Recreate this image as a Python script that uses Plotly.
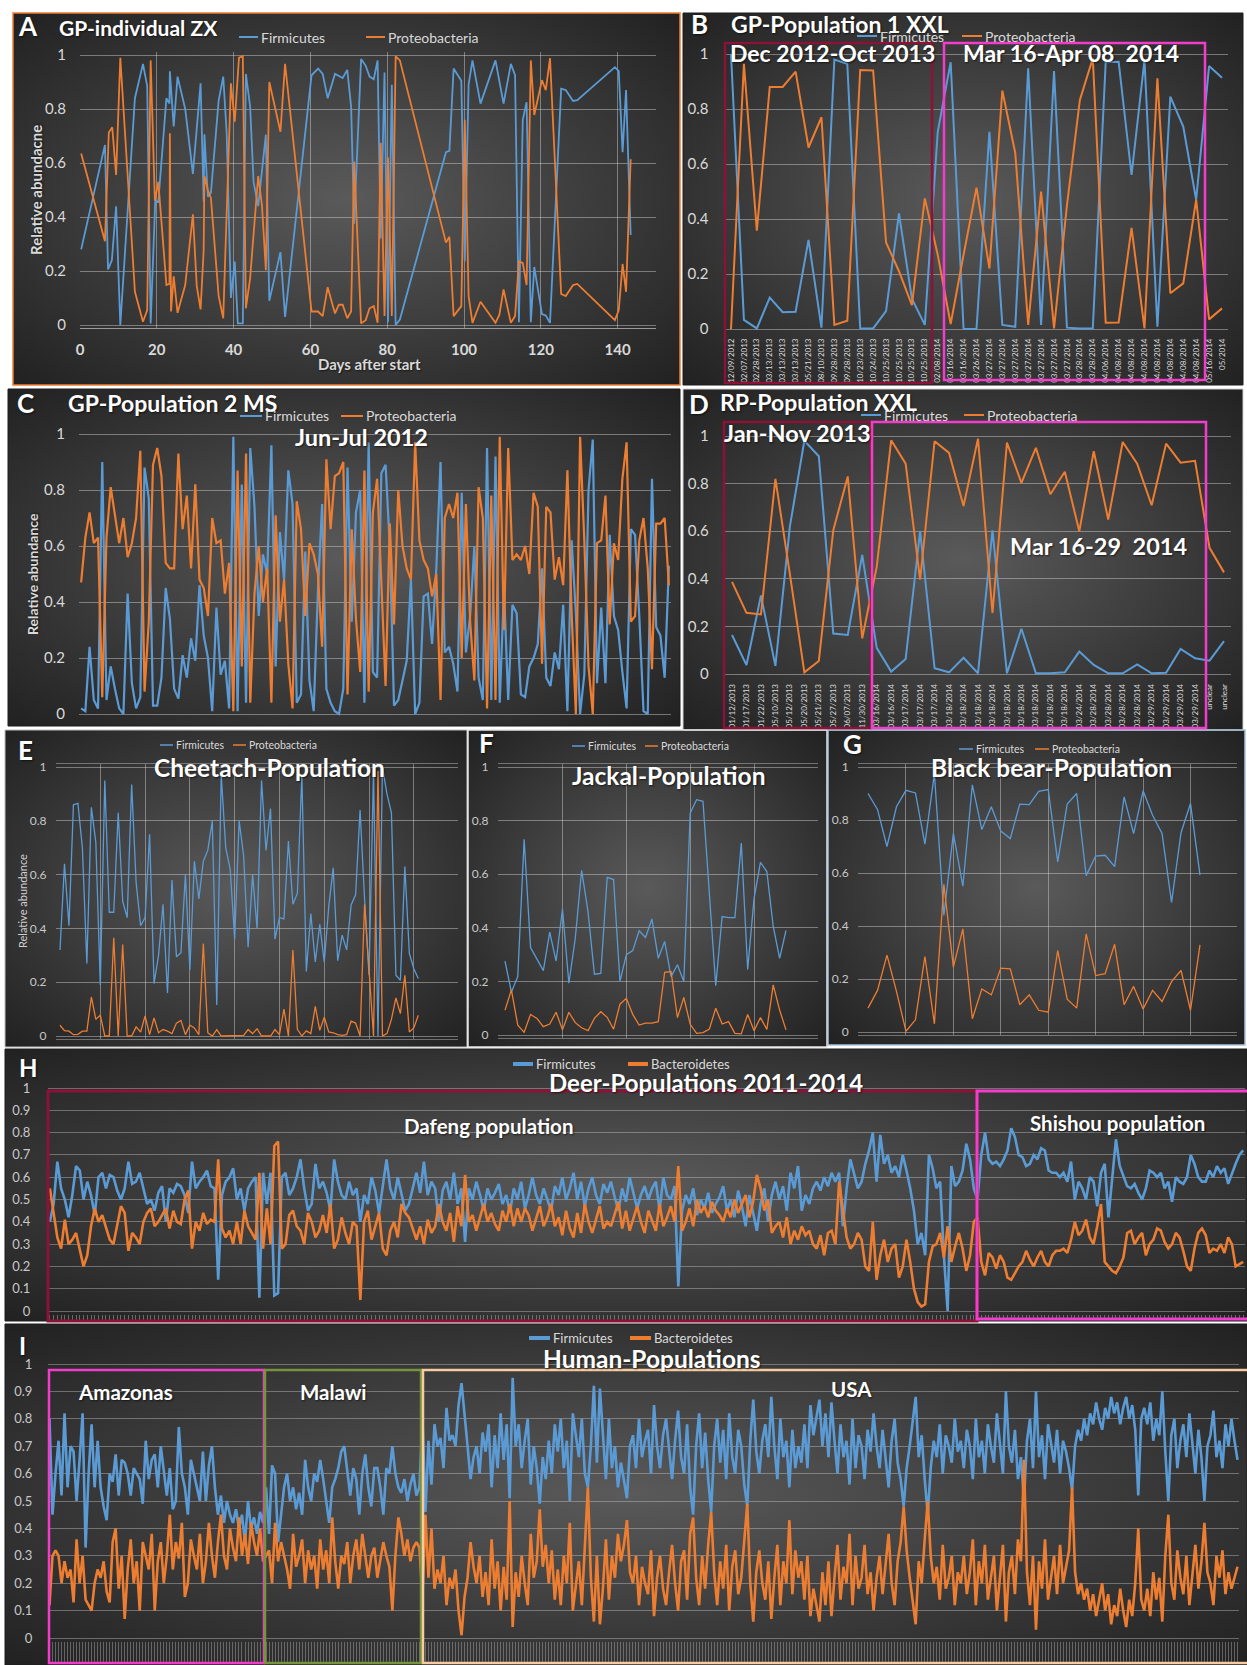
import base64
import plotly.graph_objects as go

W, H = 1247, 1665
BLUE, ORANGE = "#5b9bd5", "#ed7d31"
FONT = "Lato"
TXT = "#d9d9d9"
GRID = "rgba(215,215,215,0.45)"

# ---------------- A: GP-individual ZX (days after start) ----------------
a_fir_days = [0.3, 6.5, 7.3, 8.3, 9.4, 10.5, 14.3, 16.4, 17.5, 18.4, 19.6, 20.4, 22.5, 23.3, 23.4, 24.4,
              25.4, 27.4, 29.4, 31.4, 32.2, 32.4, 33.3, 34.1, 36.1, 37.3, 38.2, 39.3, 40.3, 41.1, 42.4,
              43.2, 44.3, 45.2, 46.4, 48.4, 49.3, 52.2, 53.4, 60.3, 62.0, 63.2, 64.5, 66.4, 68.4, 69.6,
              70.6, 71.4, 73.2, 74.4, 75.4, 76.5, 77.5, 78.3, 79.3, 80.2, 81.2, 82.2, 83.3, 95.3, 96.2,
              97.3, 99.3, 100.2, 101.2, 102.2, 104.3, 108.2, 110.3, 112.2, 113.3, 114.3, 115.3, 116.3,
              117.4, 118.3, 120.3, 121.3, 122.4, 125.3, 126.5, 128.4, 129.5, 139.3, 140.3, 141.3, 142.2, 143.4]
a_fir = [0.28, 0.667, 0.206, 0.24, 0.44, 0.0, 0.84, 0.967, 0.885, 0.006, 0.46, 0.456, 0.84, 0.82, 0.94, 0.735,
         0.92, 0.80, 0.56, 0.895, 0.457, 0.706, 0.475, 0.49, 0.83, 0.92, 0.71, 0.10, 0.235, 0.006, 0.006,
         0.93, 0.81, 0.53, 0.44, 0.705, 0.09, 0.27, 0.03, 0.925, 0.95, 0.93, 0.84, 0.93, 0.915, 0.945,
         0.81, 0.375, 0.985, 0.96, 0.92, 0.91, 0.98, 0.32, 0.935, 0.01, 0.89, 0.0, 0.02, 0.64, 0.645,
         0.95, 0.905, 0.235, 0.89, 0.98, 0.82, 0.98, 0.82, 0.967, 0.925, 0.01, 0.76, 0.825,
         0.01, 0.215, 0.04, 0.035, 0.008, 0.875, 0.87, 0.83, 0.833, 0.955, 0.94, 0.64, 0.87, 0.333]
a_pro_days = [0.3, 6.5, 7.5, 8.4, 9.4, 10.5, 14.3, 16.4, 17.5, 18.4, 19.5, 20.4, 22.5, 23.3, 23.4, 23.7,
              24.4, 25.4, 27.4, 29.4, 30.4, 31.4, 32.2, 32.4, 33.3, 34.1, 36.1, 37.3, 39.3, 40.3, 41.4,
              42.4, 43.2, 44.3, 46.4, 47.4, 48.4, 49.3, 52.2, 53.4, 60.3, 62.0, 63.2, 64.5, 66.4, 67.4,
              68.4, 69.6, 70.6, 71.4, 73.2, 74.4, 75.4, 76.5, 77.5, 78.3, 79.3, 80.2, 81.2, 82.2, 83.3,
              95.3, 96.2, 97.3, 99.3, 100.2, 101.2, 102.2, 104.3, 108.2, 109.2, 110.3, 112.2, 113.3,
              114.3, 115.3, 116.3, 117.4, 118.3, 120.3, 121.3, 122.4, 125.3, 126.5, 128.4, 129.5, 139.3,
              140.3, 141.3, 142.2, 143.4]
a_pro = [0.635, 0.31, 0.713, 0.732, 0.556, 0.99, 0.123, 0.012, 0.055, 0.98, 0.46, 0.53, 0.148, 0.152, 0.71, 0.05,
         0.18, 0.045, 0.148, 0.41, 0.145, 0.058, 0.275, 0.552, 0.50, 0.47, 0.108, 0.025, 0.895, 0.753, 0.99,
         0.995, 0.062, 0.173, 0.552, 0.44, 0.203, 0.90, 0.716, 0.967, 0.05, 0.05, 0.033, 0.14, 0.043, 0.075,
         0.075, 0.025, 0.05, 0.605, 0.006, 0.018, 0.062, 0.07, 0.008, 0.675, 0.033, 0.62, 0.033, 0.995, 0.98,
         0.305, 0.327, 0.033, 0.07, 0.76, 0.107, 0.008, 0.086, 0.008, 0.037, 0.132, 0.008, 0.033,
         0.235, 0.23, 0.148, 0.98, 0.778, 0.907, 0.87, 0.988, 0.115, 0.107, 0.148, 0.152, 0.018,
         0.055, 0.226, 0.123, 0.614]

# ---------------- B: GP-Population 1 XXL ----------------
b_dates = ["12/09/2012", "02/07/2013", "02/28/2013", "03/13/2013", "03/13/2013", "03/13/2013", "05/21/2013",
           "08/10/2013", "09/28/2013", "09/28/2013", "10/23/2013", "10/24/2013", "10/25/2013", "10/25/2013",
           "10/25/2013", "10/25/2013", "02/08/2014", "03/16/2014", "03/16/2014", "03/26/2014", "03/27/2014",
           "03/27/2014", "03/27/2014", "03/27/2014", "03/27/2014", "03/27/2014", "03/27/2014", "03/28/2014",
           "03/28/2014", "04/06/2014", "04/08/2014", "04/08/2014", "04/08/2014", "04/08/2014", "04/08/2014",
           "04/08/2014", "04/08/2014", "05/16/2014", "05/2014"]
b_fir = [1.0, 0.033, 0.002, 0.114, 0.061, 0.063, 0.324, 0.005, 0.98, 0.964, 0.002, 0.002, 0.065, 0.42, 0.11,
         0.015, 0.717, 0.97, 0.0, 0.0, 0.717, 0.015, 0.008, 0.948, 0.015, 0.938, 0.005, 0.002, 0.002, 0.97,
         0.972, 0.56, 0.978, 0.008, 0.845, 0.736, 0.47, 0.956, 0.914]
b_pro = [0.0, 0.964, 0.358, 0.88, 0.88, 0.936, 0.66, 0.77, 0.015, 0.03, 0.942, 0.94, 0.315, 0.21, 0.087,
         0.475, 0.27, 0.018, 0.27, 0.514, 0.22, 0.867, 0.64, 0.015, 0.50, 0.002, 0.45, 0.833, 0.984, 0.023,
         0.024, 0.368, 0.002, 0.912, 0.13, 0.166, 0.47, 0.035, 0.075]

# ---------------- C: GP-Population 2 MS ----------------
c_fir = [0.02, 0.01, 0.24, 0.05, 0.02, 0.90, 0.05, 0.17, 0.09, 0.02,
         0.00, 0.43, 0.11, 0.02, 0.06, 0.88, 0.77, 0.03, 0.03, 0.13,
         0.45, 0.34, 0.09, 0.055, 0.21, 0.13, 0.27, 0.19, 0.46, 0.28,
         0.20, 0.01, 0.38, 0.14, 0.19, 0.02, 0.99, 0.01, 0.82, 0.04,
         0.95, 0.74, 0.35, 0.57, 0.50, 0.96, 0.17, 0.65, 0.48, 0.87,
         0.75, 0.04, 0.07, 0.58, 0.12, 0.01, 0.44, 0.75, 0.09, 0.04,
         0.01, 0.00, 0.09, 0.88, 0.33, 0.72, 0.80, 0.04, 0.97, 0.15,
         0.13, 0.86,
         0.89, 0.60, 0.03, 0.05, 0.12, 0.19, 0.48, 0.00, 0.04, 0.42,
         0.43, 0.25, 0.52, 0.90, 0.22, 0.24, 0.18, 0.08, 0.79, 0.22,
         0.35, 0.60, 0.13, 0.05, 0.95, 0.05, 0.92, 0.04, 0.45, 0.05,
         0.39, 0.36, 0.07, 0.06, 0.17, 0.20, 0.25, 0.52, 0.13, 0.10,
         0.22, 0.16, 0.39, 0.01, 0.62, 0.36, 0.00, 0.14, 0.80, 0.98,
         0.11, 0.38, 0.11, 0.64, 0.35, 0.30, 0.15, 0.02, 0.66, 0.64,
         0.35, 0.01, 0.00, 0.84, 0.31, 0.28, 0.13, 0.53]
c_pro = [0.47, 0.63, 0.72, 0.61, 0.63, 0.06, 0.63, 0.81, 0.71, 0.61,
         0.70, 0.56, 0.61, 0.70, 0.94, 0.08, 0.33, 0.89, 0.95, 0.85,
         0.54, 0.52, 0.52, 0.93, 0.66, 0.78, 0.52, 0.82, 0.48, 0.45,
         0.35, 0.70, 0.61, 0.62, 0.43, 0.54, 0.01, 0.87, 0.17, 0.93,
         0.04, 0.43, 0.60, 0.40, 0.52, 0.04, 0.71, 0.33, 0.48, 0.18,
         0.02, 0.76, 0.66, 0.35, 0.61, 0.57, 0.50, 0.24, 0.91, 0.66,
         0.85, 0.86, 0.90, 0.07, 0.66, 0.34, 0.15, 0.87, 0.08, 0.72,
         0.84, 0.44,
         0.10, 0.68, 0.32, 0.80, 0.60, 0.52, 0.48, 0.97, 0.62, 0.55,
         0.52, 0.42, 0.50, 0.05, 0.70, 0.75, 0.70, 0.79, 0.20, 0.75,
         0.33, 0.12, 0.81, 0.70, 0.02, 0.78, 0.05, 0.99, 0.30, 0.95,
         0.55, 0.57, 0.55, 0.60, 0.50, 0.79, 0.74, 0.18, 0.74, 0.72,
         0.48, 0.56, 0.46, 0.87, 0.36, 0.00, 0.99, 0.62, 0.17, 0.00,
         0.61, 0.62, 0.78, 0.32, 0.61, 0.55, 0.84, 0.97, 0.33, 0.35,
         0.62, 0.70, 0.52, 0.16, 0.68, 0.68, 0.70, 0.46]

# ---------------- D: RP-Population XXL ----------------
d_dates = (["01/12/2013", "01/17/2013", "01/22/2013", "05/10/2013", "05/12/2013", "05/20/2013",
            "05/21/2013", "05/27/2013", "06/07/2013", "11/30/2013", "03/16/2014", "03/16/2014",
            "03/17/2014", "03/17/2014", "03/17/2014"] + ["03/18/2014"] * 9 + ["03/24/2014"]
           + ["03/28/2014"] * 4 + ["03/29/2014"] * 4 + ["unclear", "unclear"])
d_fir = [0.164, 0.038, 0.33, 0.034, 0.62, 0.98, 0.915, 0.17, 0.164, 0.50, 0.11, 0.01, 0.063, 0.60, 0.024,
         0.007, 0.068, 0.003, 0.604, 0.003, 0.19, 0.003, 0.003, 0.007, 0.094, 0.038, 0.003, 0.003, 0.04,
         0.003, 0.005, 0.105, 0.066, 0.056, 0.138]
d_pro = [0.387, 0.257, 0.25, 0.82, 0.42, 0.007, 0.055, 0.604, 0.83, 0.15, 0.45, 0.982, 0.884, 0.397, 0.978,
         0.929, 0.706, 0.989, 0.257, 0.972, 0.803, 0.95, 0.755, 0.85, 0.60, 0.936, 0.649, 0.975, 0.884,
         0.709, 0.968, 0.888, 0.896, 0.53, 0.427]

# ---------------- E: Cheetah population ----------------
e_fir = [0.32, 0.64, 0.41, 0.86, 0.865, 0.70, 0.27, 0.85, 0.72, 0.19, 0.95, 0.46, 0.46, 0.83, 0.50, 0.44,
         0.935, 0.57, 0.41, 0.44, 0.75, 0.195, 0.30, 0.49, 0.16, 0.58, 0.295, 0.31, 0.60, 0.245, 0.65, 0.51,
         0.65, 0.69, 0.80, 0.115, 0.97, 0.70, 0.62, 0.36, 0.80, 0.67, 0.33, 0.60, 0.40, 0.95, 0.69, 0.845,
         0.36, 0.44, 0.435, 0.725, 0.49, 0.53, 0.97, 0.24, 0.455, 0.275, 0.415, 0.275, 0.48, 0.625, 0.28,
         0.375, 0.32, 0.487, 0.525, 0.84, 0.51, 0.226, 0.98, 0.0, 1.0, 0.90, 0.83, 0.226, 0.207, 0.63,
         0.307, 0.25, 0.214]
e_pro = [0.04, 0.02, 0.018, 0.005, 0.006, 0.018, 0.018, 0.145, 0.062, 0.077, 0.0, 0.0, 0.365, 0.0, 0.34, 0.0,
         0.0, 0.034, 0.015, 0.075, 0.005, 0.067, 0.012, 0.024, 0.018, 0.009, 0.048, 0.058, 0.005, 0.04, 0.03,
         0.005, 0.344, 0.012, 0.0, 0.024, 0.0, 0.0, 0.0, 0.0, 0.0, 0.002, 0.024, 0.009, 0.027, 0.0, 0.0, 0.0,
         0.024, 0.005, 0.10, 0.0, 0.32, 0.025, 0.0, 0.019, 0.009, 0.11, 0.021, 0.07, 0.015, 0.012, 0.005,
         0.002, 0.005, 0.055, 0.048, 0.0, 0.49, 0.24, 0.0, 0.985, 0.0, 0.009, 0.062, 0.142, 0.083, 0.226,
         0.015, 0.03, 0.077]

# ---------------- F: Jackal population ----------------
f_fir = [0.276, 0.16, 0.218, 0.73, 0.326, 0.283, 0.24, 0.384, 0.276, 0.47, 0.193, 0.36, 0.614, 0.46, 0.227,
         0.23, 0.588, 0.58, 0.20, 0.30, 0.315, 0.389, 0.364, 0.433, 0.286, 0.349, 0.218, 0.262, 0.20, 0.828,
         0.878, 0.872, 0.51, 0.184, 0.442, 0.438, 0.438, 0.716, 0.245, 0.51, 0.644, 0.61, 0.405, 0.286, 0.39]
f_pro = [0.093, 0.168, 0.037, 0.01, 0.077, 0.062, 0.031, 0.041, 0.085, 0.019, 0.085, 0.046, 0.027, 0.016,
         0.062, 0.087, 0.066, 0.022, 0.115, 0.137, 0.077, 0.037, 0.044, 0.044, 0.05, 0.234, 0.237, 0.065,
         0.14, 0.04, 0.006, 0.009, 0.022, 0.10, 0.041, 0.05, 0.006, 0.004, 0.077, 0.016, 0.065, 0.021,
         0.187, 0.093, 0.019]

# ---------------- G: Black bear population ----------------
g_fir = [0.90, 0.84, 0.70, 0.85, 0.912, 0.902, 0.709, 0.975, 0.44, 0.75, 0.55, 0.933, 0.764, 0.85, 0.758,
         0.73, 0.86, 0.858, 0.908, 0.915, 0.642, 0.86, 0.90, 0.59, 0.664, 0.667, 0.624, 0.887, 0.749, 0.91,
         0.818, 0.749, 0.489, 0.752, 0.862, 0.592]
g_pro = [0.09, 0.157, 0.29, 0.153, 0.003, 0.046, 0.285, 0.031, 0.557, 0.245, 0.389, 0.05, 0.162, 0.14,
         0.241, 0.238, 0.103, 0.14, 0.082, 0.075, 0.307, 0.124, 0.09, 0.37, 0.213, 0.22, 0.331, 0.103,
         0.172, 0.087, 0.157, 0.115, 0.19, 0.232, 0.082, 0.329]

# ---------------- H: Deer populations 2011-2014 ----------------
h_dafeng_fir = [
    0.40, 0.48, 0.67, 0.55, 0.50, 0.42, 0.52, 0.65, 0.63, 0.50,
    0.58, 0.52, 0.43, 0.60, 0.62, 0.55, 0.61, 0.60, 0.54, 0.50,
    0.55, 0.67, 0.57, 0.58, 0.62, 0.55, 0.48, 0.50, 0.45, 0.53,
    0.56, 0.40, 0.55, 0.53, 0.57, 0.56, 0.52, 0.44, 0.67, 0.55,
    0.58, 0.60, 0.63, 0.56, 0.55, 0.14, 0.52, 0.58, 0.60, 0.64,
    0.50, 0.55, 0.45, 0.55, 0.58, 0.60, 0.06, 0.62, 0.48, 0.62,
    0.07, 0.08, 0.60, 0.62, 0.52, 0.55, 0.60, 0.68, 0.55, 0.45,
    0.48, 0.66, 0.55, 0.58, 0.53, 0.45, 0.68, 0.58, 0.52, 0.50,
    0.58, 0.52, 0.55, 0.40, 0.52, 0.48, 0.60, 0.54, 0.44, 0.56,
    0.68, 0.55, 0.50, 0.60, 0.52, 0.45, 0.48, 0.55, 0.62, 0.53,
    0.67, 0.52, 0.58, 0.55, 0.40, 0.54, 0.58, 0.50, 0.62, 0.48,
    0.55, 0.31, 0.55, 0.50, 0.58, 0.52, 0.45, 0.55, 0.50, 0.53,
    0.57, 0.48, 0.52, 0.44, 0.55, 0.50, 0.58, 0.46, 0.52, 0.60,
    0.52, 0.48, 0.55, 0.50, 0.45, 0.56, 0.52, 0.60, 0.50, 0.55,
    0.62, 0.50, 0.58, 0.47, 0.55, 0.60, 0.52, 0.48, 0.57, 0.53,
    0.58, 0.51, 0.45, 0.55, 0.49, 0.60, 0.53, 0.46, 0.52, 0.56,
    0.50, 0.55, 0.58, 0.45, 0.60, 0.52, 0.50, 0.56, 0.11, 0.45,
    0.52, 0.48, 0.55, 0.43, 0.50, 0.46, 0.53, 0.44, 0.48, 0.51,
    0.56, 0.45, 0.50, 0.42, 0.54, 0.47, 0.38, 0.52, 0.44, 0.36,
    0.48, 0.55, 0.40, 0.52, 0.58, 0.50, 0.56, 0.45, 0.62, 0.55,
    0.65, 0.45, 0.52, 0.48, 0.55, 0.58, 0.54, 0.60, 0.56, 0.62,
    0.58, 0.62, 0.38, 0.55, 0.68, 0.62, 0.55, 0.58, 0.66, 0.72,
    0.80, 0.58, 0.79, 0.66, 0.70, 0.62, 0.65, 0.60, 0.70, 0.63,
    0.55, 0.45, 0.30, 0.35, 0.25, 0.70, 0.64, 0.55, 0.58, 0.25,
    0.00, 0.65, 0.56, 0.58, 0.63, 0.75, 0.68, 0.55, 0.50, 0.70]
h_dafeng_bac = [
    0.55, 0.44, 0.33, 0.28, 0.41, 0.30, 0.32, 0.35, 0.28, 0.20,
    0.25, 0.38, 0.46, 0.40, 0.43, 0.37, 0.32, 0.30, 0.38, 0.47,
    0.44, 0.27, 0.35, 0.33, 0.30, 0.40, 0.44, 0.46, 0.38, 0.40,
    0.43, 0.46, 0.37, 0.45, 0.40, 0.39, 0.50, 0.54, 0.28, 0.40,
    0.36, 0.44, 0.39, 0.41, 0.40, 0.68, 0.37, 0.33, 0.36, 0.30,
    0.40, 0.30, 0.45, 0.38, 0.35, 0.32, 0.62, 0.28, 0.46, 0.30,
    0.74, 0.76, 0.28, 0.30, 0.43, 0.45, 0.38, 0.36, 0.30, 0.44,
    0.40, 0.33, 0.36, 0.43, 0.35, 0.48, 0.28, 0.32, 0.42, 0.35,
    0.30, 0.40, 0.38, 0.05, 0.40, 0.45, 0.32, 0.38, 0.44, 0.28,
    0.25, 0.36, 0.40, 0.33, 0.48, 0.44, 0.42, 0.37, 0.32, 0.38,
    0.30, 0.41, 0.35, 0.38, 0.48, 0.40, 0.36, 0.44, 0.31, 0.47,
    0.38, 0.61, 0.40, 0.43, 0.36, 0.42, 0.48, 0.40, 0.44, 0.39,
    0.36, 0.45, 0.40, 0.48, 0.38, 0.46, 0.40, 0.46, 0.43, 0.36,
    0.42, 0.47, 0.38, 0.42, 0.48, 0.38, 0.42, 0.34, 0.45, 0.37,
    0.33, 0.44, 0.35, 0.48, 0.40, 0.35, 0.41, 0.47, 0.37, 0.40,
    0.38, 0.43, 0.49, 0.37, 0.45, 0.36, 0.41, 0.47, 0.40, 0.35,
    0.45, 0.40, 0.36, 0.48, 0.38, 0.42, 0.47, 0.40, 0.65, 0.36,
    0.40, 0.46, 0.38, 0.50, 0.44, 0.47, 0.42, 0.49, 0.45, 0.43,
    0.40, 0.46, 0.42, 0.50, 0.44, 0.48, 0.52, 0.42, 0.49, 0.61,
    0.55, 0.45, 0.50, 0.35, 0.38, 0.40, 0.33, 0.42, 0.30, 0.36,
    0.32, 0.38, 0.34, 0.36, 0.30, 0.28, 0.34, 0.25, 0.35, 0.36,
    0.30, 0.58, 0.45, 0.33, 0.28, 0.30, 0.35, 0.32, 0.20, 0.18,
    0.40, 0.14, 0.25, 0.32, 0.22, 0.28, 0.30, 0.15, 0.20, 0.32,
    0.22, 0.10, 0.04, 0.02, 0.03, 0.22, 0.29, 0.30, 0.35, 0.24,
    0.38, 0.22, 0.29, 0.35, 0.28, 0.18, 0.25, 0.40, 0.42, 0.22]
h_shishou_fir = [
    0.80, 0.68, 0.66, 0.67, 0.65, 0.68, 0.72, 0.82, 0.78, 0.70,
    0.69, 0.65, 0.66, 0.70, 0.68, 0.73, 0.72, 0.63, 0.62, 0.62,
    0.60, 0.62, 0.58, 0.67, 0.50, 0.58, 0.55, 0.50, 0.60, 0.58,
    0.47, 0.62, 0.66, 0.42, 0.60, 0.77, 0.65, 0.60, 0.56, 0.55,
    0.57, 0.53, 0.50, 0.55, 0.63, 0.62, 0.60, 0.62, 0.55, 0.58,
    0.49, 0.60, 0.58, 0.57, 0.60, 0.70, 0.66, 0.60, 0.58, 0.58,
    0.63, 0.60, 0.65, 0.62, 0.64, 0.57, 0.62, 0.66, 0.70, 0.72]
h_shishou_bac = [
    0.16, 0.26, 0.24, 0.19, 0.25, 0.22, 0.15, 0.14, 0.17, 0.20,
    0.22, 0.27, 0.23, 0.20, 0.24, 0.27, 0.22, 0.20, 0.25, 0.27,
    0.27, 0.28, 0.26, 0.32, 0.40, 0.34, 0.36, 0.41, 0.33, 0.30,
    0.38, 0.48, 0.22, 0.20, 0.18, 0.17, 0.20, 0.24, 0.35, 0.36,
    0.30, 0.33, 0.35, 0.25, 0.30, 0.32, 0.37, 0.36, 0.31, 0.28,
    0.30, 0.35, 0.33, 0.27, 0.20, 0.18, 0.28, 0.35, 0.37, 0.34,
    0.26, 0.28, 0.27, 0.30, 0.26, 0.33, 0.30, 0.20, 0.21, 0.22]

# ---------------- I: Human populations ----------------
i_amazonas_fir = [
    0.80, 0.45, 0.60, 0.72, 0.52, 0.82, 0.55, 0.70, 0.68, 0.50,
    0.65, 0.82, 0.33, 0.60, 0.78, 0.55, 0.72, 0.55, 0.48, 0.43,
    0.60, 0.57, 0.67, 0.52, 0.65, 0.64, 0.60, 0.52, 0.62, 0.60,
    0.58, 0.49, 0.72, 0.58, 0.65, 0.67, 0.55, 0.70, 0.60, 0.52,
    0.62, 0.47, 0.50, 0.77, 0.60, 0.55, 0.45, 0.65, 0.60, 0.55,
    0.50, 0.68, 0.50, 0.63, 0.70, 0.55, 0.45, 0.52, 0.42, 0.50,
    0.45, 0.42, 0.47, 0.40, 0.45, 0.35, 0.50, 0.40, 0.44, 0.38,
    0.46, 0.42]
i_amazonas_bac = [
    0.12, 0.30, 0.32, 0.30, 0.20, 0.28, 0.22, 0.25, 0.13, 0.36,
    0.20, 0.30, 0.14, 0.12, 0.10, 0.20, 0.25, 0.22, 0.28, 0.17,
    0.13, 0.35, 0.40, 0.18, 0.30, 0.07, 0.25, 0.36, 0.20, 0.28,
    0.10, 0.35, 0.30, 0.25, 0.38, 0.10, 0.28, 0.35, 0.20, 0.30,
    0.45, 0.25, 0.35, 0.29, 0.42, 0.15, 0.20, 0.36, 0.30, 0.25,
    0.38, 0.20, 0.28, 0.42, 0.30, 0.22, 0.35, 0.45, 0.30, 0.25,
    0.40, 0.33, 0.28, 0.44, 0.30, 0.38, 0.27, 0.42, 0.35, 0.30,
    0.40, 0.28]
i_malawi_fir = [
    0.55, 0.38, 0.63, 0.60, 0.35, 0.45, 0.55, 0.60, 0.50, 0.55,
    0.47, 0.53, 0.45, 0.65, 0.55, 0.50, 0.60, 0.57, 0.65, 0.58,
    0.50, 0.42, 0.55, 0.58, 0.62, 0.68, 0.70, 0.60, 0.52, 0.62,
    0.58, 0.45, 0.60, 0.67, 0.55, 0.48, 0.62, 0.62, 0.55, 0.45,
    0.62, 0.60, 0.70, 0.60, 0.55, 0.53, 0.58, 0.50, 0.56, 0.60,
    0.52, 0.55]
i_malawi_bac = [
    0.30, 0.32, 0.20, 0.42, 0.28, 0.35, 0.30, 0.25, 0.18, 0.38,
    0.26, 0.30, 0.36, 0.20, 0.32, 0.25, 0.30, 0.18, 0.36, 0.25,
    0.32, 0.20, 0.44, 0.28, 0.18, 0.30, 0.27, 0.35, 0.20, 0.30,
    0.36, 0.25, 0.38, 0.30, 0.22, 0.30, 0.33, 0.22, 0.28, 0.35,
    0.30, 0.26, 0.10, 0.30, 0.44, 0.38, 0.30, 0.36, 0.28, 0.33,
    0.35, 0.33]
i_usa_fir = [
    0.80, 0.46, 0.72, 0.56, 0.78, 0.70, 0.73, 0.62, 0.84, 0.72,
    0.74, 0.70, 0.85, 0.93, 0.80, 0.70, 0.58, 0.66, 0.70, 0.60,
    0.75, 0.68, 0.78, 0.55, 0.74, 0.62, 0.82, 0.65, 0.78, 0.51,
    0.95, 0.70, 0.78, 0.62, 0.72, 0.80, 0.56, 0.70, 0.62, 0.49,
    0.66, 0.58, 0.72, 0.60, 0.78, 0.68, 0.80, 0.62, 0.72, 0.50,
    0.82, 0.74, 0.66, 0.80, 0.60, 0.55, 0.70, 0.92, 0.64, 0.91,
    0.76, 0.58, 0.80, 0.62, 0.70, 0.55, 0.64, 0.58, 0.51, 0.70,
    0.74, 0.62, 0.80, 0.66, 0.72, 0.76, 0.60, 0.85, 0.70, 0.62,
    0.74, 0.80, 0.68, 0.58, 0.72, 0.83, 0.66, 0.60, 0.78, 0.55,
    0.45, 0.70, 0.82, 0.62, 0.75, 0.58, 0.46, 0.70, 0.80, 0.64,
    0.76, 0.58, 0.82, 0.66, 0.60, 0.76, 0.70, 0.56, 0.48, 0.72,
    0.87, 0.68, 0.60, 0.72, 0.78, 0.66, 0.88, 0.70, 0.58, 0.80,
    0.66, 0.72, 0.55, 0.76, 0.62, 0.70, 0.64, 0.78, 0.62, 0.85,
    0.74, 0.80, 0.87, 0.70, 0.82, 0.66, 0.86, 0.72, 0.60, 0.78,
    0.66, 0.72, 0.56, 0.80, 0.62, 0.74, 0.70, 0.58, 0.76, 0.68,
    0.82, 0.70, 0.62, 0.76, 0.66, 0.55, 0.72, 0.80, 0.64, 0.58,
    0.48, 0.62, 0.70, 0.78, 0.88, 0.66, 0.74, 0.58, 0.45, 0.62,
    0.72, 0.66, 0.78, 0.60, 0.74, 0.70, 0.64, 0.80, 0.68, 0.72,
    0.62, 0.76, 0.70, 0.58, 0.80, 0.66, 0.72, 0.60, 0.78, 0.70,
    0.64, 0.82, 0.72, 0.60, 0.90, 0.70, 0.64, 0.76, 0.58, 0.66,
    0.50, 0.72, 0.80, 0.62, 0.90, 0.66, 0.74, 0.58, 0.78, 0.70,
    0.64, 0.76, 0.60, 0.72, 0.68, 0.62, 0.54, 0.70, 0.76, 0.72,
    0.80, 0.74, 0.82, 0.78, 0.86, 0.80, 0.76, 0.84, 0.80, 0.88,
    0.82, 0.86, 0.78, 0.84, 0.88, 0.80, 0.85, 0.76, 0.52, 0.80,
    0.84, 0.78, 0.86, 0.72, 0.80, 0.74, 0.90, 0.68, 0.50, 0.74,
    0.80, 0.62, 0.72, 0.78, 0.66, 0.82, 0.70, 0.60, 0.76, 0.66,
    0.50, 0.70, 0.74, 0.83, 0.66, 0.72, 0.62, 0.78, 0.70, 0.80,
    0.72, 0.65]
i_usa_bac = [
    0.15, 0.45, 0.22, 0.40, 0.18, 0.25, 0.20, 0.30, 0.12, 0.22,
    0.18, 0.25, 0.10, 0.01, 0.15, 0.22, 0.35, 0.26, 0.20, 0.30,
    0.15, 0.24, 0.12, 0.36, 0.18, 0.28, 0.10, 0.26, 0.14, 0.50,
    0.04, 0.24, 0.15, 0.30, 0.20, 0.12, 0.38, 0.22, 0.28, 0.47,
    0.26, 0.34, 0.20, 0.32, 0.14, 0.25, 0.12, 0.30, 0.20, 0.42,
    0.10, 0.18, 0.28, 0.12, 0.33, 0.55, 0.22, 0.06, 0.30, 0.05,
    0.18, 0.36, 0.14, 0.30, 0.22, 0.38, 0.28, 0.34, 0.43, 0.24,
    0.20, 0.30, 0.12, 0.26, 0.20, 0.16, 0.32, 0.08, 0.22, 0.30,
    0.18, 0.12, 0.24, 0.34, 0.20, 0.10, 0.28, 0.32, 0.14, 0.38,
    0.44, 0.22, 0.12, 0.30, 0.18, 0.34, 0.46, 0.24, 0.12, 0.28,
    0.18, 0.34, 0.10, 0.26, 0.32, 0.16, 0.22, 0.36, 0.49, 0.20,
    0.06, 0.24, 0.32, 0.20, 0.14, 0.28, 0.07, 0.22, 0.34, 0.12,
    0.28, 0.20, 0.43, 0.16, 0.32, 0.22, 0.28, 0.14, 0.30, 0.08,
    0.18, 0.12, 0.06, 0.24, 0.12, 0.28, 0.08, 0.22, 0.34, 0.14,
    0.26, 0.20, 0.38, 0.12, 0.30, 0.18, 0.22, 0.34, 0.16, 0.24,
    0.10, 0.22, 0.30, 0.16, 0.26, 0.38, 0.20, 0.12, 0.28, 0.35,
    0.48, 0.32, 0.22, 0.14, 0.05, 0.28, 0.20, 0.36, 0.50, 0.30,
    0.20, 0.26, 0.14, 0.34, 0.18, 0.22, 0.30, 0.12, 0.24, 0.20,
    0.30, 0.16, 0.24, 0.36, 0.12, 0.28, 0.20, 0.34, 0.14, 0.22,
    0.30, 0.10, 0.22, 0.34, 0.06, 0.24, 0.30, 0.16, 0.36, 0.28,
    0.65, 0.24, 0.12, 0.30, 0.03, 0.28, 0.18, 0.36, 0.14, 0.22,
    0.30, 0.16, 0.34, 0.20, 0.26, 0.32, 0.55, 0.24, 0.16, 0.20,
    0.14, 0.18, 0.10, 0.16, 0.08, 0.14, 0.20, 0.10, 0.16, 0.05,
    0.12, 0.08, 0.18, 0.10, 0.04, 0.14, 0.08, 0.20, 0.40, 0.14,
    0.10, 0.18, 0.08, 0.24, 0.14, 0.22, 0.06, 0.30, 0.45, 0.20,
    0.14, 0.32, 0.22, 0.16, 0.30, 0.12, 0.24, 0.34, 0.18, 0.28,
    0.42, 0.24, 0.20, 0.12, 0.30, 0.22, 0.32, 0.16, 0.24, 0.18,
    0.22, 0.26]

# ======================= figure construction =======================
h_fir = h_dafeng_fir + h_shishou_fir
h_bac = h_dafeng_bac + h_shishou_bac
i_fir = i_amazonas_fir + i_malawi_fir + i_usa_fir
i_bac = i_amazonas_bac + i_malawi_bac + i_usa_bac

fig = go.Figure()
axes = {}
shapes = []
annotations = []
images = []
count = [0]


def pxx(x):
    return x / W


def pyy(y):
    return 1 - y / H


def new_axes(xpix, xvals, ypix, xr, yr, xopts, yopts):
    """xpix: pixel columns of the two x values xvals; ypix: pixel rows of y=0 and y=1."""
    count[0] += 1
    n = count[0]
    sx = (xpix[1] - xpix[0]) / (xvals[1] - xvals[0])
    left = xpix[0] + (xr[0] - xvals[0]) * sx
    right = xpix[0] + (xr[1] - xvals[0]) * sx
    sy = ypix[1] - ypix[0]
    bottom = ypix[0] + yr[0] * sy
    top = ypix[0] + yr[1] * sy
    xid = "x" if n == 1 else f"x{n}"
    yid = "y" if n == 1 else f"y{n}"
    axes["xaxis" if n == 1 else f"xaxis{n}"] = dict(
        domain=[left / W, right / W], range=list(xr), anchor=yid, zeroline=False,
        fixedrange=True, automargin=False, **xopts)
    axes["yaxis" if n == 1 else f"yaxis{n}"] = dict(
        domain=[1 - bottom / H, 1 - top / H], range=list(yr), anchor=xid, zeroline=False,
        fixedrange=True, automargin=False, **yopts)
    return xid, yid


def y_opts(dtick, size, color=TXT, gap=8, grid=GRID):
    return dict(tickmode="linear", tick0=0, dtick=dtick, showgrid=True, gridcolor=grid, gridwidth=1,
                ticks="outside", ticklen=gap, tickcolor="rgba(0,0,0,0)",
                tickfont=dict(family=FONT, size=size, color=color), showline=False)


def add_line(xid, yid, x, y, color, width):
    fig.add_trace(go.Scatter(x=x, y=y, mode="lines", xaxis=xid, yaxis=yid,
                             line=dict(color=color, width=width), showlegend=False, hoverinfo="skip"))


def text(s, x, y, size, bold=True, color="white", anchor="left", angle=0, shadow=True):
    annotations.append(dict(
        text=f"<b>{s}</b>" if bold else s, x=pxx(x), y=pyy(y), xref="paper", yref="paper",
        xanchor=anchor, yanchor="middle", showarrow=False, textangle=angle,
        font=dict(family=FONT, size=size, color=color,
                  shadow="1px 1px 2px rgba(0,0,0,0.6)" if shadow else "none")))


def legend(items, y, size, lw, length, color=TXT):
    for x0, label, c in items:
        shapes.append(dict(type="line", xref="paper", yref="paper", x0=pxx(x0), x1=pxx(x0 + length),
                           y0=pyy(y), y1=pyy(y), line=dict(color=c, width=lw), layer="above"))
        text(label, x0 + length + 1, y, size, bold=False, color=color, shadow=False)


def box(x0, y0, x1, y1, color, width, layer="above"):
    shapes.append(dict(type="rect", xref="paper", yref="paper", x0=pxx(x0), x1=pxx(x1),
                       y0=pyy(y1), y1=pyy(y0), line=dict(color=color, width=width),
                       fillcolor="rgba(0,0,0,0)", layer=layer))


def gradient(c_in, c_out):
    svg = ('<svg xmlns="http://www.w3.org/2000/svg" width="200" height="200" viewBox="0 0 200 200" '
           'preserveAspectRatio="none"><defs><radialGradient id="g" cx="50%" cy="50%" r="72%">'
           f'<stop offset="0" stop-color="{c_in}"/><stop offset="1" stop-color="{c_out}"/>'
           '</radialGradient></defs><rect width="200" height="200" fill="url(#g)"/></svg>')
    return "data:image/svg+xml;base64," + base64.b64encode(svg.encode()).decode()


BG = gradient("#5a5a5a", "#202020")


def panel(x0, y0, x1, y1, border, bw):
    images.append(dict(source=BG, xref="paper", yref="paper", x=pxx(x0), y=pyy(y0),
                       sizex=(x1 - x0) / W, sizey=(y1 - y0) / H, sizing="stretch",
                       xanchor="left", yanchor="top", layer="below"))
    box(x0, y0, x1, y1, border, bw)


# panel backgrounds and frames
panel(13, 13, 680, 385, "#ed7d31", 1.5)
panel(683, 13, 1243, 385, "#1c1c1c", 1)
panel(8, 389, 680, 726, "#1c1c1c", 1)
panel(683, 389, 1243, 730, "#cfcfcf", 1)
panel(5, 730, 467, 1047, "#bdbdbd", 1)
panel(468, 730, 827, 1047, "#e6e6e6", 1.5)
panel(828, 730, 1245, 1045, "#a9c4dd", 1.5)
panel(5, 1049, 1247, 1321, "#1c1c1c", 1)
panel(5, 1324, 1247, 1665, "#1c1c1c", 1)

PAD = 0.012

# ---- A ----
xa, ya = new_axes((80, 656), (0, 150), (325, 55), (0, 150), (-PAD, 1 + PAD),
                  dict(tickmode="linear", tick0=0, dtick=20, showgrid=True, gridcolor=GRID,
                       ticks="outside", ticklen=8, tickcolor="rgba(0,0,0,0)",
                       tickfont=dict(family=FONT, size=15, color=TXT, weight="bold"),
                       showline=True, linecolor="#9a9a9a"),
                  y_opts(0.2, 15, gap=10))
add_line(xa, ya, a_fir_days, a_fir, BLUE, 1.8)
add_line(xa, ya, a_pro_days, a_pro, ORANGE, 1.8)
text("A", 16, 26, 26)
text("GP-individual ZX", 57, 28, 21)
legend([(239, "Firmicutes", BLUE), (366, "Proteobacteria", ORANGE)], 37, 14, 2, 19)
text("Days after start", 369, 364, 15, anchor="center", color=TXT)
text("Relative abundacne", 36, 190, 15, anchor="center", angle=-90, color=TXT)

# ---- B ----
nb = len(b_dates)
xb, yb = new_axes((731, 1222), (0, nb - 1), (329, 54), (-0.5, nb - 0.5), (-PAD, 1 + PAD),
                  dict(tickmode="array", tickvals=list(range(nb)), ticktext=b_dates, tickangle=-90,
                       showgrid=False, ticks="outside", ticklen=2, tickcolor="rgba(0,0,0,0)",
                       tickfont=dict(family=FONT, size=8, color="#dcdcdc"), showline=False),
                  y_opts(0.2, 15, gap=12))
add_line(xb, yb, list(range(nb)), b_fir, BLUE, 2)
add_line(xb, yb, list(range(nb)), b_pro, ORANGE, 2)
text("B", 689, 24, 26)
text("GP-Population 1 XXL", 729, 24, 23)
legend([(857, "Firmicutes", BLUE), (962, "Proteobacteria", ORANGE)], 36, 14, 2, 20)
text("Dec 2012-Oct 2013", 728, 53, 23)
text("Mar 16-Apr 08  2014", 961, 53, 23)
box(725, 43, 932, 383, "#8c1238", 2.5)
box(944, 43, 1205, 380, "#f23ccc", 2.5)

# ---- C ----
nc = len(c_fir)
xc, yc = new_axes((79, 671), (-0.5, nc - 0.5), (714, 434), (-0.5, nc - 0.5), (-PAD, 1 + PAD),
                  dict(showticklabels=False, showgrid=False, showline=False),
                  y_opts(0.2, 15, gap=10))
add_line(xc, yc, list(range(nc)), c_fir, BLUE, 2.2)
add_line(xc, yc, list(range(nc)), c_pro, ORANGE, 2.2)
text("C", 15, 403, 26)
text("GP-Population 2 MS", 66, 403, 23)
legend([(240, "Firmicutes", BLUE), (341, "Proteobacteria", ORANGE)], 416, 14, 2, 22)
text("Jun-Jul 2012", 293, 437, 23.5)
text("Relative abundance", 33, 574, 14, anchor="center", angle=-90, color=TXT)

# ---- D ----
nd = len(d_dates)
xd, yd = new_axes((732, 1224), (0, nd - 1), (674, 436), (-0.5, nd - 0.5), (-PAD, 1 + PAD),
                  dict(tickmode="array", tickvals=list(range(nd)), ticktext=d_dates, tickangle=-90,
                       showgrid=False, ticks="outside", ticklen=3, tickcolor="rgba(0,0,0,0)",
                       tickfont=dict(family=FONT, size=8, color="#dcdcdc"), showline=False),
                  y_opts(0.2, 15, gap=12))
add_line(xd, yd, list(range(nd)), d_fir, BLUE, 2)
add_line(xd, yd, list(range(nd)), d_pro, ORANGE, 2)
text("D", 687, 404, 26)
text("RP-Population XXL", 718, 402, 23)
legend([(861, "Firmicutes", BLUE), (964, "Proteobacteria", ORANGE)], 415, 14, 2, 20)
text("Jan-Nov 2013", 722, 433, 23.5)
text("Mar 16-29  2014", 1008, 546, 23.5)
box(724, 422, 871, 728, "#8c1238", 2.5)
box(872, 422, 1206, 728, "#f23ccc", 2.5)

# ---- E ----
ne = len(e_fir)
frame = dict(showline=True, mirror=True, linecolor="rgba(200,200,200,0.45)")
xe, ye = new_axes((60, 418.3), (0, ne - 1), (1036, 767), (-0.9, 88.9), (-PAD, 1 + PAD),
                  dict(tickmode="array", tickvals=[9, 19, 29, 39, 49, 59, 69, 79], showticklabels=False,
                       showgrid=True, gridcolor=GRID, **frame),
                  dict(y_opts(0.2, 12, color="#c8c8c8", gap=6), mirror=True,
                       linecolor="rgba(200,200,200,0.45)"))
add_line(xe, ye, list(range(ne)), e_fir, BLUE, 1.3)
add_line(xe, ye, list(range(ne)), e_pro, ORANGE, 1.3)
text("E", 16, 750, 26)
legend([(160, "Firmicutes", BLUE), (233, "Proteobacteria", ORANGE)], 745, 10.5, 1.5, 13)
text("Cheetach-Population", 152, 768, 24.5)
text("Relative abundance", 23, 901, 11, bold=False, anchor="center", angle=-90, color="#d0d0d0", shadow=False)

# ---- F ----
nf = len(f_fir)
xf, yf = new_axes((505, 786), (0, nf - 1), (1035, 767), (-1.1, 49.0), (-PAD, 1 + PAD),
                  dict(tickmode="array", tickvals=[9, 19, 29, 39], showticklabels=False,
                       showgrid=True, gridcolor=GRID, **frame),
                  y_opts(0.2, 12, color="#c8c8c8", gap=6))
add_line(xf, yf, list(range(nf)), f_fir, BLUE, 1.3)
add_line(xf, yf, list(range(nf)), f_pro, ORANGE, 1.3)
text("F", 477, 743, 26)
legend([(572, "Firmicutes", BLUE), (645, "Proteobacteria", ORANGE)], 746, 10.5, 1.5, 13)
text("Jackal-Population", 570, 775, 24.5)

# ---- G ----
ng = len(g_fir)
xg, yg = new_axes((868, 1200), (0, ng - 1), (1032, 767), (-1.05, 38.9), (-PAD, 1 + PAD),
                  dict(tickmode="array", tickvals=[4, 9, 14, 19, 24, 29, 34], showticklabels=False,
                       showgrid=True, gridcolor=GRID, **frame),
                  y_opts(0.2, 12, color="#c8c8c8", gap=6))
add_line(xg, yg, list(range(ng)), g_fir, BLUE, 1.3)
add_line(xg, yg, list(range(ng)), g_pro, ORANGE, 1.3)
text("G", 841, 744, 26)
legend([(959, "Firmicutes", BLUE), (1035, "Proteobacteria", ORANGE)], 749, 10.5, 1.5, 14)
text("Black bear-Population", 929, 768, 24.5)

# ---- H ----
nh = len(h_fir)
xh, yh = new_axes((48, 1245), (-0.5, nh - 0.5), (1311, 1088), (-0.5, nh - 0.5), (-PAD, 1 + PAD),
                  dict(tickmode="linear", tick0=0, dtick=1, showticklabels=False, showgrid=False,
                       ticks="outside", ticklen=5, tickwidth=1, tickcolor="rgba(175,175,175,0.5)"),
                  y_opts(0.1, 13, color="#c8c8c8", gap=14, grid="rgba(215,215,215,0.38)"))
add_line(xh, yh, list(range(nh)), h_fir, BLUE, 2.6)
add_line(xh, yh, list(range(nh)), h_bac, ORANGE, 2.6)
text("H", 17, 1067, 24)
legend([(513, "Firmicutes", BLUE), (628, "Bacteroidetes", ORANGE)], 1064, 13, 4, 20)
text("Deer-Populations 2011-2014", 547, 1082, 24)
text("Dafeng population", 402, 1126, 20.5)
text("Shishou population", 1028, 1123, 20.5)
box(48, 1091, 977, 1321, "#8c1238", 3)
box(977, 1091, 1252, 1319, "#f23ccc", 3)

# ---- I ----
ni = len(i_fir)
xi, yi = new_axes((48, 1239), (-0.5, ni - 0.5), (1638, 1364), (-0.5, ni - 0.5), (-PAD, 1 + PAD),
                  dict(tickmode="linear", tick0=0, dtick=1, showticklabels=False, showgrid=False,
                       ticks="outside", ticklen=22, tickwidth=1, tickcolor="rgba(175,175,175,0.45)"),
                  y_opts(0.1, 13, color="#c8c8c8", gap=12, grid="rgba(215,215,215,0.38)"))
add_line(xi, yi, list(range(ni)), i_fir, BLUE, 2.6)
add_line(xi, yi, list(range(ni)), i_bac, ORANGE, 2.6)
text("I", 17, 1345, 24)
legend([(529, "Firmicutes", BLUE), (630, "Bacteroidetes", ORANGE)], 1338, 13, 4, 21)
text("Human-Populations", 541, 1358, 24.5)
text("Amazonas", 76, 1392, 20.5)
text("Malawi", 298, 1392, 20.5)
text("USA", 829, 1389, 20.5)
box(49, 1370, 264, 1663, "#f23ccc", 2.5)
box(265, 1370, 421, 1663, "#77933c", 2.5)
box(423, 1370, 1252, 1663, "#f8cba0", 2.5)

fig.update_layout(
    width=W, height=H, margin=dict(l=0, r=0, t=0, b=0, pad=0),
    paper_bgcolor="white", plot_bgcolor="rgba(0,0,0,0)",
    showlegend=False, hovermode=False,
    shapes=shapes, annotations=annotations, images=images, **axes)

fig.write_html("out.html")
